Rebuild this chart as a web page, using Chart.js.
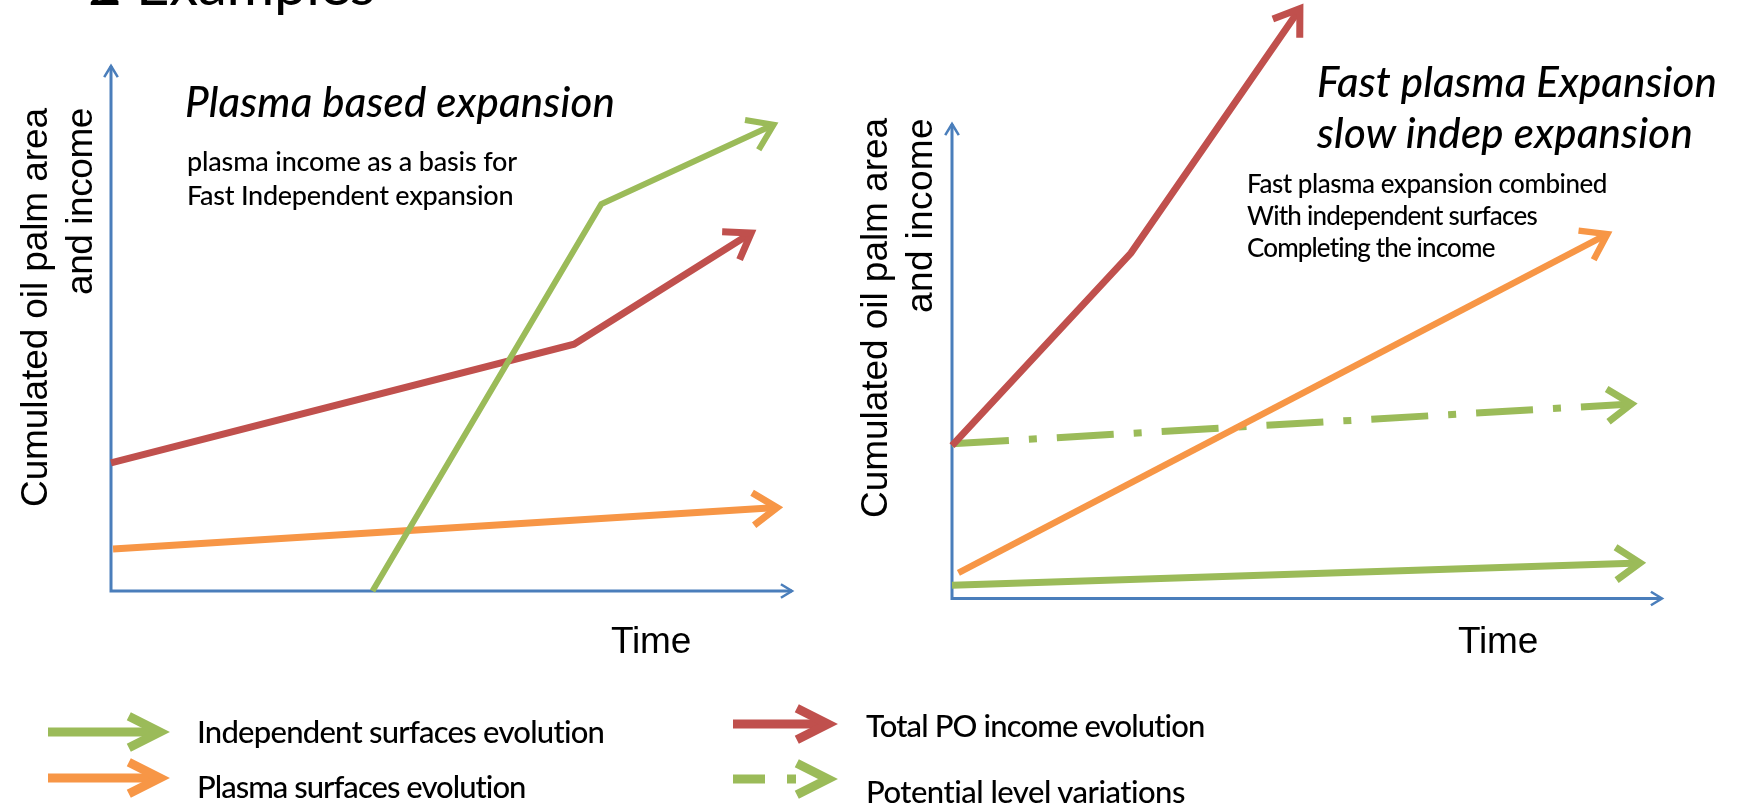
<!DOCTYPE html>
<html>
<head>
<meta charset="utf-8">
<script src="https://cdn.jsdelivr.net/npm/chart.js@4.4.1/dist/chart.umd.min.js"></script>
<style>
  html, body { margin: 0; padding: 0; background: #fff; }
  body { width: 1738px; height: 805px; overflow: hidden; position: relative; }
  canvas { position: absolute; top: 0; }
  .t { position: absolute; white-space: nowrap; color: #000; line-height: 1; display: inline-block; }
</style>
</head>
<body>
<canvas id="leftChart" width="860" height="680" style="left:0"></canvas>
<canvas id="rightChart" width="878" height="680" style="left:860px"></canvas>
<canvas id="legendArrows" width="900" height="115" style="left:0;top:690px"></canvas>

<script>
// ---- Data (time / level in arbitrary 0..100 units) ----
const timeRange = [0, 100];
const levelRange = [0, 100];

// Left panel: Plasma based expansion
const leftIndepX = [38.4, 72.0, 97.3];
const leftIndepY = [0, 73.7, 88.8];
const leftPlasmaX = [0.3, 97.8];
const leftPlasmaY = [8.0, 15.9];
const leftTotalX = [0, 68.0, 94.0];
const leftTotalY = [24.4, 47.0, 68.2];

// Right panel: Fast plasma expansion, slow indep expansion
const rightTotalX = [0, 25.2, 49.0];
const rightTotalY = [32.2, 72.8, 124.3];
const rightPlasmaX = [0.9, 92.3];
const rightPlasmaY = [5.4, 76.8];
const rightPotentialX = [0, 95.7];
const rightPotentialY = [32.6, 41.0];
const rightIndepX = [0, 96.9];
const rightIndepY = [2.8, 7.5];

// ---- Colours ----
const GREEN = '#9bbb59';
const RED = '#c0504d';
const ORANGE = '#f79646';
const AXIS = '#4a7ebb';

function pts(xs, ys) {
  return xs.map((x, i) => ({ x: x, y: ys[i] }));
}

// open chevron at (x, y) pointing along angle ang
function chevron(ctx, x, y, ang, len, spread) {
  ctx.beginPath();
  ctx.moveTo(x - len * Math.cos(ang - spread), y - len * Math.sin(ang - spread));
  ctx.lineTo(x, y);
  ctx.lineTo(x - len * Math.cos(ang + spread), y - len * Math.sin(ang + spread));
  ctx.stroke();
}

// axes with arrow ends, drawn from the scales
const axesPlugin = {
  id: 'arrowAxes',
  beforeDatasetsDraw(chart) {
    const ctx = chart.ctx;
    const xs = chart.scales.x, ys = chart.scales.y;
    const x0 = xs.getPixelForValue(timeRange[0]);
    const x1 = xs.getPixelForValue(timeRange[1]);
    const y0 = ys.getPixelForValue(levelRange[0]);
    const y1 = ys.getPixelForValue(levelRange[1]);
    ctx.save();
    ctx.strokeStyle = AXIS;
    ctx.lineWidth = 3;
    ctx.lineJoin = 'miter';
    ctx.beginPath();
    ctx.moveTo(x0, y1);
    ctx.lineTo(x0, y0);
    ctx.lineTo(x1, y0);
    ctx.stroke();
    ctx.lineWidth = 2.5;
    chevron(ctx, x0, y1, -Math.PI / 2, 13, 0.55);
    chevron(ctx, x1, y0, 0, 13, 0.55);
    ctx.restore();
  }
};

// arrow heads at the end of each series
const headPlugin = {
  id: 'arrowHeads',
  afterDatasetsDraw(chart) {
    const ctx = chart.ctx;
    chart.data.datasets.forEach((ds, i) => {
      const p = chart.getDatasetMeta(i).data;
      const a = p[p.length - 2], b = p[p.length - 1];
      const ang = Math.atan2(b.y - a.y, b.x - a.x);
      ctx.save();
      ctx.strokeStyle = ds.borderColor;
      ctx.lineWidth = ds.borderWidth;
      ctx.lineJoin = 'miter';
      ctx.setLineDash([]);
      chevron(ctx, b.x, b.y, ang, 29, 0.6);
      ctx.restore();
    });
  }
};

function line(data, color, width, dash) {
  return {
    data: data,
    showLine: true,
    borderColor: color,
    backgroundColor: color,
    borderWidth: width,
    borderDash: dash || [],
    borderCapStyle: 'butt',
    pointRadius: 0,
    tension: 0,
    clip: false
  };
}

function makeChart(id, datasets, padding) {
  return new Chart(document.getElementById(id), {
    type: 'scatter',
    data: { datasets: datasets },
    options: {
      responsive: false,
      animation: false,
      events: [],
      layout: { padding: padding },
      plugins: { legend: { display: false }, tooltip: { enabled: false } },
      scales: {
        x: { type: 'linear', min: timeRange[0], max: timeRange[1], display: false },
        y: { type: 'linear', min: levelRange[0], max: levelRange[1], display: false }
      }
    },
    plugins: [axesPlugin, headPlugin]
  });
}

makeChart('leftChart', [
  line(pts(leftIndepX, leftIndepY), GREEN, 6),
  line(pts(leftTotalX, leftTotalY), RED, 7),
  line(pts(leftPlasmaX, leftPlasmaY), ORANGE, 7)
], { left: 111, top: 66, right: 68, bottom: 89 });

makeChart('rightChart', [
  line(pts(rightPlasmaX, rightPlasmaY), ORANGE, 6.5),
  line(pts(rightTotalX, rightTotalY), RED, 7),
  line(pts(rightPotentialX, rightPotentialY), GREEN, 7, [57, 20, 8, 20]),
  line(pts(rightIndepX, rightIndepY), GREEN, 7)
], { left: 92, top: 124, right: 76, bottom: 81.5 });

// ---- Legend arrows ----
(function drawLegend() {
  const ctx = document.getElementById('legendArrows').getContext('2d');
  const top = 690;
  function legendArrow(x0, x1, y, color, dashed) {
    ctx.save();
    ctx.strokeStyle = color;
    ctx.lineWidth = 9;
    ctx.lineJoin = 'miter';
    if (dashed) ctx.setLineDash([32, 22, 9, 100]);
    ctx.beginPath();
    ctx.moveTo(x0, y - top);
    ctx.lineTo(dashed ? x1 - 30 : x1, y - top);
    ctx.stroke();
    ctx.setLineDash([]);
    chevron(ctx, x1, y - top, 0, 35, 0.47);
    ctx.restore();
  }
  legendArrow(48, 160, 732, GREEN, false);
  legendArrow(48, 160, 778, ORANGE, false);
  legendArrow(733, 828, 724, RED, false);
  legendArrow(733, 828, 779, GREEN, true);
})();

// ---- Texts ----
function place(text, o) {
  const el = document.createElement('div');
  el.className = 't';
  el.textContent = text;
  el.style.fontFamily = o.family || 'Lato, "Open Sans", sans-serif';
  el.style.fontSize = o.size + 'px';
  if (o.italic) el.style.fontStyle = 'italic';
  if (o.weight) el.style.fontWeight = o.weight;
  document.body.appendChild(el);
  // fit the text width with letter spacing
  if (o.width) {
    const w0 = el.getBoundingClientRect().width;
    el.style.letterSpacing = ((o.width - w0) / text.length) + 'px';
  }
  // baseline offset inside the box
  const probe = document.createElement('span');
  probe.style.cssText = 'display:inline-block;width:0;height:0;vertical-align:baseline';
  el.appendChild(probe);
  const base = probe.offsetTop;
  if (o.rot) {
    el.style.transformOrigin = '0 0';
    el.style.transform = 'rotate(-90deg)';
    el.style.left = (o.x - base) + 'px';
    el.style.top = o.y + 'px';
  } else {
    el.style.left = o.x + 'px';
    el.style.top = (o.y - base) + 'px';
  }
}

const ARIAL = '"Liberation Sans", Arial, sans-serif';

// page heading, mostly cut off by the top edge
place('2 Examples', { x: 88, y: 5, size: 58, width: 287 });

place('Plasma based expansion', { x: 185, y: 117, size: 42, italic: true, weight: 500, width: 430 });
place('plasma income as a basis for', { x: 187, y: 171, size: 27, weight: 500, width: 330 });
place('Fast Independent  expansion', { x: 187, y: 205, size: 27, weight: 500, width: 326 });

place('Fast plasma Expansion', { x: 1317, y: 97, size: 42, italic: true, weight: 500, width: 400 });
place('slow indep expansion', { x: 1317, y: 148, size: 42, italic: true, weight: 500, width: 376 });
place('Fast plasma expansion combined', { x: 1247, y: 193, size: 26, weight: 500, width: 360 });
place('With independent surfaces', { x: 1247, y: 225, size: 26, weight: 500, width: 290 });
place('Completing the income', { x: 1247, y: 257, size: 26, weight: 500, width: 248 });

place('Cumulated oil palm area', { x: 46.7, y: 507, size: 37, family: ARIAL, width: 399, rot: true });
place('and income', { x: 91.7, y: 295, size: 37, family: ARIAL, width: 187, rot: true });
place('Cumulated oil palm area', { x: 886.7, y: 518, size: 37, family: ARIAL, width: 400, rot: true });
place('and income', { x: 931.7, y: 313, size: 37, family: ARIAL, width: 195, rot: true });

place('Time', { x: 611, y: 653, size: 37, family: ARIAL, width: 80 });
place('Time', { x: 1458, y: 653, size: 37, family: ARIAL, width: 80 });

place('Independent  surfaces evolution', { x: 197, y: 743, size: 31, weight: 500, width: 407 });
place('Plasma surfaces evolution', { x: 197, y: 798, size: 31, weight: 500, width: 329 });
place('Total PO income evolution', { x: 866, y: 737, size: 31, weight: 500, width: 339 });
place('Potential level variations', { x: 866, y: 803, size: 31, weight: 500, width: 320 });
</script>
</body>
</html>
